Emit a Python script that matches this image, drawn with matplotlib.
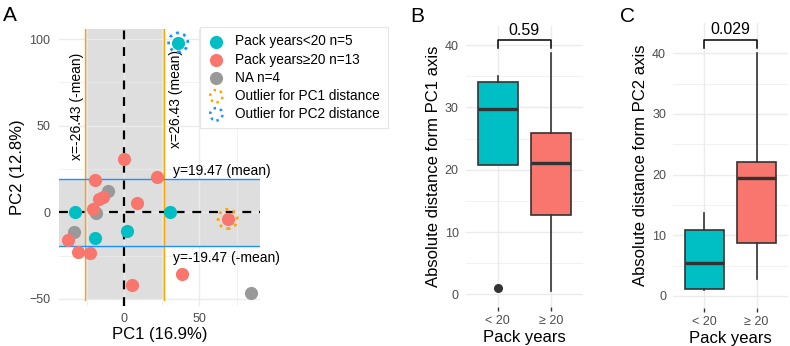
import matplotlib
matplotlib.use("Agg")
import matplotlib.pyplot as plt

plt.rcParams['font.family'] = ['Liberation Sans', 'DejaVu Sans']

# Colores (paleta ggplot)
TEAL = '#00BFC4'
ROJO = '#F8766D'
GRIS = '#999999'
NARANJA = '#FFA500'
AZUL = '#1E90FF'
GRID = '#EBEBEB'

# Panel A: coordenadas PCA de cada muestra
pc1 = [-18.9, -11.0, -33.5, 84.5,
       0.0, 22.0, -19.5, -14.0, -16.7, 8.7, -21.0, 69.0, -37.7, -31.0, -22.9, 38.3, 5.1,
       36.0, -32.7, 30.7, 1.6, -19.5]
pc2 = [-0.2, 12.5, -11.6, -46.6,
       31.0, 20.5, 18.6, 8.7, 7.5, 5.2, 2.0, -3.9, -16.0, -23.0, -23.7, -35.8, -42.0,
       98.0, 0.0, 0.0, -10.6, -14.8]
grupo = ['na'] * 4 + ['ge20'] * 13 + ['lt20'] * 5
outlier = ['', '', '', '',
           '', '', '', '', '', '', '', 'PC1', '', '', '', '', '',
           'PC2', '', '', '', '']

MEDIA_PC1 = 26.43
MEDIA_PC2 = 19.47

colores = {'lt20': TEAL, 'ge20': ROJO, 'na': GRIS}
etiquetas = ['Pack years<20 n=5', 'Pack years\u226520 n=13', 'NA n=4',
             'Outlier for PC1 distance', 'Outlier for PC2 distance']

# Paneles B y C: resumen de boxplots
grupos_box = ['< 20', '\u2265 20']
b_q1 = [20.8, 12.7]
b_med = [29.8, 21.1]
b_q3 = [34.0, 25.9]
b_lo = [20.8, 0.5]
b_hi = [35.0, 38.8]
b_fliers = [[0.96], []]
b_p = '0.59'
b_bracket = 40.8

c_q1 = [1.1, 8.7]
c_med = [5.5, 19.4]
c_q3 = [10.8, 22.1]
c_lo = [1.0, 2.75]
c_hi = [13.7, 40.1]
c_fliers = [[], []]
c_p = '0.029'
c_bracket = 42.2

W, H = 790, 346
fig = plt.figure(figsize=(W / 100, H / 100), dpi=100)


def caja(x0, y0, x1, y1):
    return [x0 / W, 1 - y1 / H, (x1 - x0) / W, (y1 - y0) / H]


def estilo(ax):
    for s in ax.spines.values():
        s.set_visible(False)
    ax.tick_params(axis='both', labelsize=9, labelcolor='#4D4D4D', length=0)


# ---------------- Panel A ----------------
ax = fig.add_axes(caja(58.6, 29, 260, 305.7))
estilo(ax)
ax.set_xlim(-43.8, 90.6)
ax.set_ylim(-53.9, 105.8)
ax.set_xticks([0, 50])
ax.set_yticks([-50, 0, 50, 100])
ax.tick_params(axis='y', pad=6)
ax.tick_params(axis='x', pad=5)
for v in [-25, 25, 75]:
    ax.axvline(v, color=GRID, lw=0.5, zorder=1)
    ax.axhline(v, color=GRID, lw=0.5, zorder=1)
for v in [0, 50]:
    ax.axvline(v, color=GRID, lw=1.0, zorder=1)
for v in [-50, 0, 50, 100]:
    ax.axhline(v, color=GRID, lw=1.0, zorder=1)

ymin_banda = -50.5
ax.fill_between([-MEDIA_PC1, MEDIA_PC1], ymin_banda, 105.8, color='#DEDEDE', lw=0, zorder=0.5)
ax.fill_between([-43.8, 90.6], -MEDIA_PC2, MEDIA_PC2, color='#DEDEDE', lw=0, zorder=0.5)
ax.plot([-MEDIA_PC1, -MEDIA_PC1], [ymin_banda, 105.8], color=NARANJA, lw=1, zorder=2)
ax.plot([MEDIA_PC1, MEDIA_PC1], [ymin_banda, 105.8], color=NARANJA, lw=1, zorder=2)
ax.axhline(MEDIA_PC2, color=AZUL, lw=1, zorder=2)
ax.axhline(-MEDIA_PC2, color=AZUL, lw=1, zorder=2)
ax.axvline(0, color='black', lw=1.6, ls=(0, (4, 3.5)), zorder=2)
ax.axhline(0, color='black', lw=1.6, ls=(0, (4, 3.5)), zorder=2)

for i in range(len(pc1)):
    ax.scatter(pc1[i], pc2[i], s=90, color=colores[grupo[i]], lw=0, zorder=3)
    if outlier[i]:
        col = NARANJA if outlier[i] == 'PC1' else AZUL
        ax.scatter(pc1[i], pc2[i], s=190, facecolors='none', edgecolors=col,
                   linestyles=':', linewidths=2, zorder=4)

ax.text(-31.5, 61.3, 'x=-26.43 (-mean)', rotation=90, ha='center', va='center', fontsize=10)
ax.text(34.3, 65.5, 'x=26.43 (mean)', rotation=90, ha='center', va='center', fontsize=10)
ax.text(32.6, 23.6, 'y=19.47 (mean)', ha='left', va='center', fontsize=10, clip_on=False)
ax.text(32.6, -26.5, 'y=-19.47 (-mean)', ha='left', va='center', fontsize=10, clip_on=False)

ax.set_xlabel('PC1 (16.9%)', fontsize=12, labelpad=2)
ax.set_ylabel('PC2 (12.8%)', fontsize=12, labelpad=3)

handles = [
    ax.scatter([], [], s=90, color=TEAL, lw=0),
    ax.scatter([], [], s=90, color=ROJO, lw=0),
    ax.scatter([], [], s=90, color=GRIS, lw=0),
    ax.scatter([], [], s=80, facecolors='none', edgecolors=NARANJA, linestyles=':', linewidths=1.8),
    ax.scatter([], [], s=80, facecolors='none', edgecolors=AZUL, linestyles=':', linewidths=1.8),
]
leg = fig.legend(handles, etiquetas, loc='upper left', bbox_to_anchor=(200 / W, 1 - 27 / H),
                 borderaxespad=0, fontsize=9.8, frameon=True, fancybox=False,
                 edgecolor='#E5E5E5', framealpha=1, handlelength=1.3, handletextpad=0.75,
                 labelspacing=0.3, borderpad=0.55, scatterpoints=1)
leg.get_frame().set_linewidth(0.8)


# ---------------- Paneles B y C ----------------
def panel_box(rect, q1, med, q3, lo, hi, fliers, p, yb, ylim, ylabel):
    ax = fig.add_axes(rect)
    estilo(ax)
    ax.set_xlim(0.4, 2.6)
    ax.set_ylim(*ylim)
    for v in [5, 15, 25, 35]:
        ax.axhline(v, color=GRID, lw=0.5, zorder=0)
    for v in [0, 10, 20, 30, 40]:
        ax.axhline(v, color=GRID, lw=1.0, zorder=0)
    for v in [1, 2]:
        ax.axvline(v, color=GRID, lw=1.0, zorder=0)
    stats = []
    for i in range(2):
        stats.append({'q1': q1[i], 'med': med[i], 'q3': q3[i], 'whislo': lo[i],
                      'whishi': hi[i], 'fliers': fliers[i]})
    bp = ax.bxp(stats, positions=[1, 2], widths=0.75, patch_artist=True, showcaps=False,
                boxprops=dict(edgecolor='#333333', linewidth=1.2),
                medianprops=dict(color='#333333', linewidth=2.4),
                whiskerprops=dict(color='#333333', linewidth=1.2),
                flierprops=dict(marker='o', markerfacecolor='#333333', markeredgecolor='#333333',
                                markersize=5.5))
    for patch, col in zip(bp['boxes'], [TEAL, ROJO]):
        patch.set_facecolor(col)
    ax.set_xticks([1, 2])
    ax.set_xticklabels(grupos_box)
    ax.set_yticks([0, 10, 20, 30, 40])
    ax.tick_params(axis='x', length=3, width=1, color='#333333', pad=3)
    ax.tick_params(axis='y', pad=5)
    ax.plot([1, 1, 2, 2], [yb - 1.3, yb, yb, yb - 1.3], color='black', lw=1.1, clip_on=False)
    ax.text(1.5, yb + 0.4, p, ha='center', va='bottom', fontsize=11.5)
    ax.set_xlabel('Pack years', fontsize=12, labelpad=2)
    ax.set_ylabel(ylabel, fontsize=12, labelpad=3)
    return ax


panel_box(caja(465.7, 26.4, 583, 306.8), b_q1, b_med, b_q3, b_lo, b_hi, b_fliers,
          b_p, b_bracket, (-2, 43), 'Absolute distance form PC1 axis')
panel_box(caja(673, 22.8, 788, 308.1), c_q1, c_med, c_q3, c_lo, c_hi, c_fliers,
          c_p, c_bracket, (-2, 45), 'Absolute distance form PC2 axis')

fig.text(2.5 / W, 1 - 21 / H, 'A', fontsize=15)
fig.text(410 / W, 1 - 22 / H, 'B', fontsize=15)
fig.text(620 / W, 1 - 22 / H, 'C', fontsize=15)

fig.savefig('out.png', dpi=100)
